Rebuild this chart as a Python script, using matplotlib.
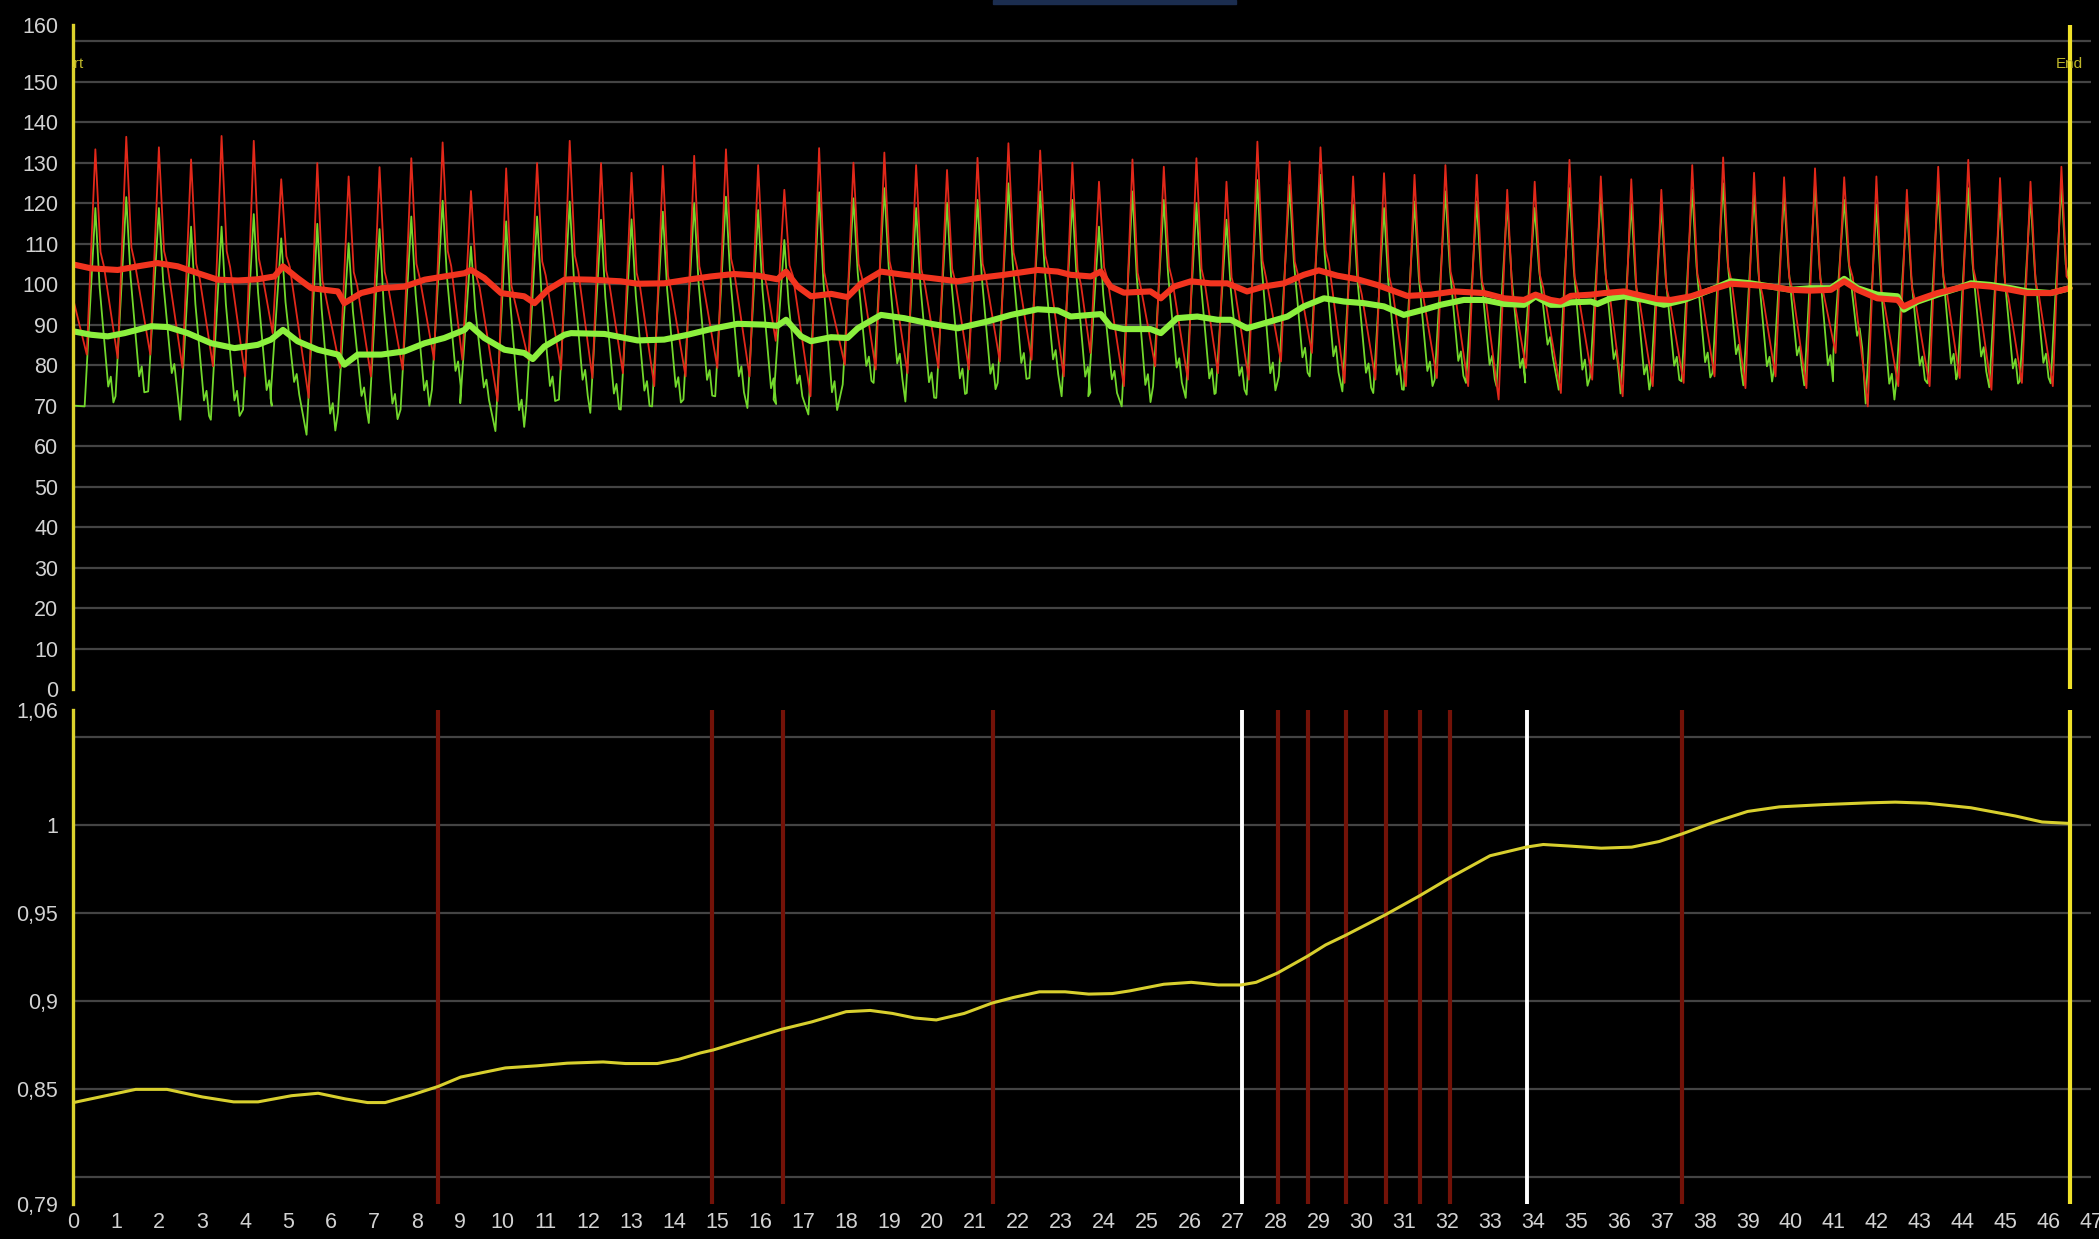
"""
Patient monitor style trend screen: arterial waveforms (top) and index trend (bottom).

Outputs:
    out.png
"""

import matplotlib.pyplot as plt
from matplotlib import font_manager
from matplotlib.patches import Rectangle

# --- beat readings (peak time, systolic peak, trough before the upstroke) ---
beat_t = [0.51, 1.23, 1.99, 2.74, 3.45, 4.20, 4.84, 5.68, 6.41, 7.13, 7.87, 8.60, 9.26, 10.08, 10.80, 11.56,
          12.29, 13.00, 13.73, 14.46, 15.20, 15.95, 16.56, 17.37, 18.17, 18.89, 19.63, 20.35, 21.06, 21.78, 22.52, 23.27,
          23.89, 24.67, 25.40, 26.16, 26.86, 27.58, 28.33, 29.05, 29.81, 30.53, 31.24, 31.96, 32.69, 33.40, 34.04, 34.85,
          35.58, 36.29, 36.99, 37.71, 38.43, 39.15, 39.85, 40.57, 41.25, 42.00, 42.71, 43.44, 44.14, 44.88, 45.59, 46.31]
red_sys = [133.3, 136.4, 133.8, 130.8, 136.6, 135.4, 125.9, 129.9, 126.6, 128.9, 131.1, 135.0, 123.0, 128.6, 129.9, 135.4,
           129.9, 127.5, 129.2, 131.7, 133.3, 129.4, 123.3, 133.6, 130.0, 132.5, 129.4, 128.2, 131.2, 134.8, 133.0, 130.0,
           125.3, 130.8, 129.0, 131.1, 125.3, 135.2, 130.3, 133.8, 126.6, 127.4, 127.0, 129.4, 127.0, 123.3, 125.3, 130.7,
           126.6, 125.9, 123.3, 129.4, 131.3, 127.5, 126.4, 128.6, 126.4, 126.6, 123.3, 129.0, 130.7, 126.2, 125.3, 129.0]
red_dia = [82.6, 81.7, 82.6, 79.3, 79.7, 77.2, 87.9, 71.9, 79.3, 77.2, 78.9, 81.3, 81.3, 71.1, 81.3, 78.9,
           76.8, 78.0, 74.8, 77.2, 79.3, 77.2, 86.0, 72.3, 80.1, 78.9, 78.0, 79.3, 78.9, 80.9, 81.3, 77.2,
           83.0, 74.8, 79.7, 76.4, 78.0, 76.4, 80.9, 83.0, 75.6, 76.4, 74.8, 76.8, 74.8, 71.5, 79.3, 73.1,
           76.4, 72.3, 74.8, 75.6, 77.2, 74.3, 77.2, 74.3, 83.0, 69.8, 74.8, 74.8, 76.8, 73.9, 75.6, 74.8]
green_sys = [118.8, 121.5, 118.8, 114.2, 114.2, 117.3, 111.3, 114.9, 110.1, 113.6, 116.7, 120.6, 109.3, 115.5, 116.7, 120.4,
             115.9, 116.0, 117.9, 120.0, 121.6, 118.3, 110.9, 122.7, 121.2, 123.7, 118.8, 120.1, 120.8, 124.9, 122.9, 120.8,
             114.2, 122.9, 120.8, 120.0, 115.9, 125.7, 124.5, 127.0, 119.6, 118.8, 120.4, 122.9, 120.4, 120.0, 118.8, 123.7,
             122.0, 120.0, 119.2, 123.3, 124.9, 122.0, 122.0, 124.9, 120.8, 119.6, 119.6, 124.1, 123.7, 121.2, 121.6, 124.5]
green_dia = [69.8, 72.3, 73.5, 66.5, 66.5, 69.0, 71.9, 62.8, 68.2, 65.7, 69.0, 73.9, 70.6, 63.7, 70.2, 71.5,
             68.2, 69.0, 69.8, 71.5, 72.3, 69.4, 71.5, 67.8, 75.2, 75.6, 71.0, 71.9, 73.1, 75.6, 76.8, 72.3,
             72.3, 69.8, 74.8, 71.9, 73.1, 72.7, 77.2, 77.2, 73.5, 73.1, 73.9, 76.4, 75.6, 74.8, 81.3, 73.9,
             77.0, 73.0, 75.5, 76.0, 78.0, 75.0, 78.0, 75.0, 83.5, 70.5, 75.5, 75.5, 77.5, 74.5, 76.0, 75.5]
red_start, red_end = 96.0, 101.0
green_start, green_end = 70.0, 100.0

# --- mean pressure traces ---
red_mean_x = [0.02, 0.41, 1.03, 1.50, 1.96, 2.43, 2.90, 3.36, 3.83, 4.29, 4.68, 4.88, 5.22, 5.54, 6.16, 6.31, 6.70,
              7.17, 7.71, 8.18, 8.64, 9.11, 9.26, 9.57, 9.96, 10.50, 10.74, 11.05, 11.44,
              11.59, 12.06, 12.75, 13.14, 13.76, 14.31, 14.85, 15.39, 15.94, 16.40, 16.60, 16.87, 17.18, 17.65,
              18.03, 18.35, 18.81, 19.35, 19.98, 20.60, 21.06, 21.68, 22.46, 22.93,
              23.23, 23.70, 23.93, 24.16, 24.47, 25.09, 25.33, 25.64, 26.03, 26.49, 26.88, 27.34, 27.73, 28.20,
              28.66, 29.01, 29.44, 29.91, 30.37, 30.68, 31.07, 31.62, 32.16, 32.86, 33.33, 33.79, 34.06, 34.41, 34.64,
              34.88, 35.35, 35.66, 36.12, 36.43, 36.90, 37.21, 37.68, 38.14, 38.61, 39.07, 39.54, 40.00, 40.47,
              40.94, 41.25, 41.56, 42.02, 42.49, 42.64, 42.96, 43.42, 43.89, 44.20, 44.66, 45.13, 45.52, 46.06, 46.50]
red_mean_y = [104.8, 103.9, 103.5, 104.4, 105.2, 104.4, 102.7, 101.1, 100.9, 101.2, 101.9, 104.4, 101.5, 99.0, 98.2,
              95.3, 97.8, 99.0, 99.4, 101.1, 101.9, 102.7, 103.5, 101.5, 97.8, 97.0, 95.3, 98.6, 101.1,
              101.2, 101.1, 100.7, 100.1, 100.2, 101.1, 101.9, 102.5, 102.1, 101.2, 103.1, 99.4, 97.0, 97.6,
              96.8, 100.2, 103.1, 102.3, 101.5, 100.7, 101.5, 102.3, 103.5, 103.1,
              102.3, 101.9, 103.1, 99.4, 97.9, 98.2, 96.5, 99.4, 100.7, 100.2, 100.2, 98.2, 99.4, 100.2,
              102.3, 103.4, 102.1, 101.2, 99.8, 98.6, 97.1, 97.4, 98.2, 97.8, 96.5, 96.1, 97.4, 96.1, 95.7,
              97.1, 97.4, 97.8, 98.2, 97.4, 96.3, 96.1, 97.0, 98.6, 100.1, 99.8, 99.4, 98.6, 98.4,
              98.6, 100.7, 98.6, 96.5, 96.1, 94.5, 96.1, 97.8, 99.0, 99.8, 99.4, 98.6, 97.8, 97.8, 99.0]
green_mean_x = [0.02, 0.41, 0.80, 1.19, 1.81, 2.20, 2.66, 3.21, 3.75, 4.29, 4.60, 4.88, 5.22, 5.69, 6.16, 6.31, 6.62,
                7.17, 7.71, 8.18, 8.64, 9.11, 9.22, 9.57, 10.04, 10.50, 10.70, 10.97, 11.44,
                11.59, 12.37, 13.14, 13.76, 14.31, 14.85, 15.47, 16.09, 16.40, 16.60, 16.95, 17.18, 17.65, 18.03,
                18.27, 18.81, 19.35, 19.98, 20.60, 21.30, 21.84, 22.46, 22.93,
                23.23, 23.70, 23.93, 24.16, 24.47, 25.09, 25.33, 25.71, 26.18, 26.65, 26.96, 27.34, 27.89, 28.28,
                28.66, 29.13, 29.60, 30.06, 30.53, 30.99, 31.46, 31.85, 32.39, 32.86, 33.33, 33.79, 34.06, 34.41, 34.64,
                34.88, 35.35, 35.50, 35.81, 36.12, 36.59, 37.05, 37.52, 38.14, 38.61, 39.07, 39.54, 40.00, 40.47,
                40.94, 41.25, 41.56, 42.02, 42.49, 42.64, 42.96, 43.42, 43.89, 44.20, 44.66, 45.13, 45.52, 46.06, 46.50]
green_mean_y = [88.3, 87.5, 87.1, 87.9, 89.6, 89.4, 87.9, 85.4, 84.2, 85.0, 86.3, 88.7, 85.9, 83.8, 82.6, 80.1, 82.6,
                82.6, 83.4, 85.4, 86.7, 88.7, 90.0, 86.7, 83.8, 83.0, 81.5, 84.6, 87.5,
                87.9, 87.7, 86.1, 86.3, 87.5, 88.9, 90.2, 90.0, 89.7, 91.2, 87.1, 85.9, 86.9, 86.7,
                89.1, 92.4, 91.6, 90.2, 89.1, 90.8, 92.4, 93.8, 93.5,
                92.0, 92.4, 92.6, 89.6, 88.9, 88.9, 87.9, 91.6, 92.0, 91.2, 91.2, 89.1, 90.8, 92.0,
                94.5, 96.5, 95.7, 95.3, 94.5, 92.4, 93.7, 94.9, 96.1, 96.1, 95.1, 94.9, 97.0, 94.9, 94.9,
                95.5, 95.7, 95.1, 96.5, 97.0, 96.1, 94.9, 96.1, 98.6, 100.7, 100.2, 99.4, 98.6, 99.0,
                99.0, 101.3, 99.0, 97.4, 97.0, 93.7, 95.7, 97.4, 99.0, 100.2, 99.8, 99.0, 98.2, 97.8, 99.0]

# --- bottom panel: index trend and event markers ---
trend_x = [0.0, 1.45, 2.18, 3.0, 3.73, 4.3, 5.08, 5.7, 6.33, 6.85, 7.26, 7.88, 8.5, 9.02, 10.06, 10.8, 11.5,
           12.34, 12.86, 13.6, 14.1, 14.6, 14.9, 16.5, 17.2, 18.0, 18.56, 19.08, 19.6, 20.1, 20.75, 21.4, 21.9,
           22.5, 23.1, 23.65, 24.2, 24.6, 25.4, 26.04, 26.67, 27.2, 27.55, 28.05, 28.75, 29.17, 29.63, 30.56,
           31.35, 32.09, 33.0, 33.84, 34.24, 34.86, 35.59, 36.3, 36.94, 37.47, 38.18, 39.0, 39.74, 40.78, 41.82,
           42.44, 43.17, 44.2, 45.24, 45.86, 46.49]
trend_y = [0.8423, 0.8498, 0.8498, 0.8455, 0.8427, 0.8427, 0.8462, 0.8476, 0.8444, 0.8423, 0.8423, 0.8466, 0.8515,
           0.8568, 0.8620, 0.8632, 0.8647, 0.8654, 0.8645, 0.8645, 0.8669, 0.8705, 0.8722, 0.8840, 0.8882, 0.8940,
           0.8947, 0.8930, 0.8904, 0.8893, 0.8930, 0.8989, 0.9021, 0.9053, 0.9053, 0.9040, 0.9043, 0.9058, 0.9096,
           0.9107, 0.9092, 0.9092, 0.9107, 0.9160, 0.9256, 0.9320, 0.9374, 0.9491, 0.9598, 0.9705, 0.9827, 0.9876,
           0.9891, 0.9882, 0.9870, 0.9876, 0.9908, 0.9951, 1.0015, 1.0079, 1.0105, 1.0118, 1.0128, 1.0132, 1.0126,
           1.0100, 1.0053, 1.0019, 1.0011]
event_x = [8.49, 14.88, 16.53, 21.41, 28.05, 28.75, 29.64, 30.57, 31.36, 32.07, 37.46]
marker_x = [27.21, 33.85]
end_x = 46.5

# --- axis ticks / grid ---
x_ticks = list(range(0, 48))
top_grid = [10, 20, 30, 40, 50, 60, 70, 80, 90, 100, 110, 120, 130, 140, 150, 160]
top_ticks = [0, 10, 20, 30, 40, 50, 60, 70, 80, 90, 100, 110, 120, 130, 140, 150, 164]
top_labels = ["0", "10", "20", "30", "40", "50", "60", "70", "80", "90", "100",
              "110", "120", "130", "140", "150", "160"]
bot_grid = [0.80, 0.85, 0.90, 0.95, 1.00, 1.05]
bot_ticks = [0.7846, 0.85, 0.90, 0.95, 1.00, 1.0656]
bot_labels = ["0,79", "0,85", "0,9", "0,95", "1", "1,06"]

BG = "#000000"
GRID = "#444444"
TXT = "#d2d2d2"
AXIS_YELLOW = "#dcd22c"

names = {f.name for f in font_manager.fontManager.ttflist}
if "Liberation Sans Narrow" in names:
    FONT, FS = "Liberation Sans Narrow", 17
else:
    FONT, FS = "Liberation Sans", 15.5
plt.rcParams["font.family"] = [FONT, "DejaVu Sans"]


def wave_vertices(t, sys_v, dia_v, rise, shape, start, end):
    """Outline of the pulse trace through the per-beat peaks and troughs."""
    xs, ys = [0.0], [start]
    for ti, s, d in zip(t, sys_v, dia_v):
        xs += [ti - rise, ti]
        ys += [d, s]
        for dt, frac in shape:
            if ti + dt < end_x:
                xs.append(ti + dt)
                ys.append(d + frac * (s - d))
    xs.append(end_x)
    ys.append(end)
    return xs, ys


def style_axes(ax, ylim, grid, ticks, labels):
    ax.set_facecolor(BG)
    ax.set_xlim(0, 47)
    ax.set_ylim(*ylim)
    for side in ("top", "right", "bottom"):
        ax.spines[side].set_visible(False)
    ax.spines["left"].set_color(AXIS_YELLOW)
    ax.spines["left"].set_linewidth(2.4)
    ax.spines["left"].set_zorder(6)
    for g in grid:
        ax.axhline(g, color=GRID, lw=1.6, zorder=0)
    ax.set_yticks(ticks)
    ax.set_yticklabels(labels)
    ax.tick_params(axis="both", length=0, colors=TXT, labelsize=FS)
    ax.tick_params(axis="y", pad=11)
    ax.tick_params(axis="x", pad=6)
    ax.set_xticks(x_ticks)


def main() -> None:
    fig = plt.figure(figsize=(20.99, 12.39), dpi=100, facecolor=BG)
    ax_top = fig.add_axes([0.0350, 0.4439, 0.9612, 0.5359])
    ax_bot = fig.add_axes([0.0350, 0.02825, 0.9612, 0.3987])

    # small title tab at the top edge of the screen
    fig.patches.append(Rectangle((993 / 2099, 1 - 4 / 1239), 243 / 2099, 4 / 1239,
                                 transform=fig.transFigure, color="#1b2d4f", zorder=10))

    # --- top panel ---
    style_axes(ax_top, (0, 164), top_grid, top_ticks, top_labels)
    ax_top.set_xticklabels([])

    gx, gy = wave_vertices(beat_t, green_sys, green_dia, 0.25,
                           [(0.10, 0.60), (0.30, 0.10), (0.36, 0.15), (0.42, 0.02)],
                           green_start, green_end)
    rx, ry = wave_vertices(beat_t, red_sys, red_dia, 0.20,
                           [(0.12, 0.50), (0.20, 0.43)],
                           red_start, red_end)
    ax_top.plot(gx, gy, color="#72d82c", lw=1.3, zorder=2)
    ax_top.plot(rx, ry, color="#e2281a", lw=1.3, zorder=3)
    ax_top.plot(green_mean_x, green_mean_y, color="#8cf03e", lw=4.4, zorder=4,
                solid_capstyle="round")
    ax_top.plot(red_mean_x, red_mean_y, color="#f2341f", lw=4.4, zorder=5,
                solid_capstyle="round")

    ax_top.axvline(end_x, color="#f0e22a", lw=3.0, zorder=7)
    ax_top.text(-0.14, 154.3, "Start", ha="center", va="center", color="#bdb52a",
                fontsize=11, clip_on=True, zorder=8)
    ax_top.text(end_x, 154.3, "End", ha="center", va="center", color="#bdb52a",
                fontsize=11, zorder=8)

    # --- bottom panel ---
    style_axes(ax_bot, (0.7846, 1.0656), bot_grid, bot_ticks, bot_labels)
    ax_bot.set_xticklabels([str(v) for v in x_ticks])
    for xv in event_x:
        ax_bot.axvline(xv, color="#731208", lw=3.0, zorder=2)
    for xv in marker_x:
        ax_bot.axvline(xv, color="#ffffff", lw=2.8, zorder=2)
    ax_bot.plot(trend_x, trend_y, color="#d8cf2e", lw=2.2, zorder=3)
    ax_bot.axvline(end_x, color="#f0e22a", lw=3.0, zorder=7)

    fig.savefig("out.png", dpi=100, facecolor=BG)
    plt.close(fig)


if __name__ == "__main__":
    main()
